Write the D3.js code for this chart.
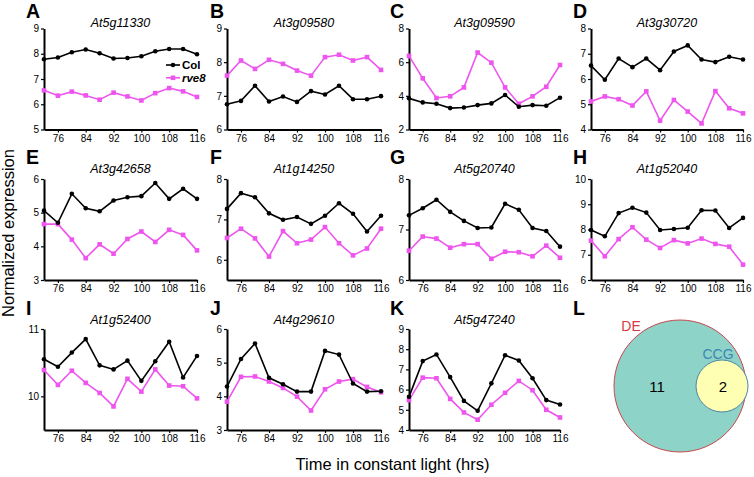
<!DOCTYPE html>
<html><head><meta charset="utf-8">
<script src="https://cdn.jsdelivr.net/npm/d3@7"></script>
<style>body{margin:0;background:#fff} svg{display:block;font-family:"Liberation Sans",Arial,Helvetica,sans-serif}</style>
</head><body><svg id="c" width="754" height="477"></svg>
<script>
// ---- data ----
const hours = [72,76,80,84,88,92,96,100,104,108,112,116];
const xTickHours = [76,84,92,100,108,116];
const panelLetters = ["A","B","C","D","E","F","G","H","I","J","K"];
const geneNames = ["At5g11330","At3g09580","At3g09590","At3g30720","At3g42658","At1g14250","At5g20740","At1g52040","At1g52400","At4g29610","At5g47240"];

const colA  = [7.78,7.85,8.06,8.17,8.02,7.81,7.83,7.90,8.10,8.19,8.19,7.98];
const rve8A = [6.55,6.34,6.50,6.35,6.18,6.46,6.31,6.15,6.44,6.64,6.51,6.29];
const colB  = [6.75,6.85,7.30,6.83,6.98,6.82,7.14,7.04,7.30,6.90,6.90,6.99];
const rve8B = [7.60,8.05,7.80,8.07,7.95,7.75,7.60,8.15,8.22,8.05,8.15,7.77];
const colC  = [3.85,3.61,3.53,3.27,3.31,3.45,3.55,4.05,3.35,3.45,3.41,3.89];
const rve8C = [6.37,5.04,3.87,3.97,4.50,6.57,5.97,4.50,3.53,3.97,4.54,5.83];
const colD  = [6.53,5.97,6.81,6.47,6.81,6.35,7.09,7.33,6.77,6.67,6.88,6.77];
const rve8D = [5.11,5.31,5.20,4.95,5.51,4.35,5.17,4.71,4.24,5.52,4.84,4.64];
const colE  = [5.06,4.70,5.56,5.13,5.04,5.36,5.46,5.49,5.88,5.41,5.71,5.41];
const rve8E = [4.66,4.66,4.20,3.65,4.06,3.78,4.22,4.44,4.13,4.49,4.34,3.88];
const colF  = [7.26,7.65,7.55,7.15,6.99,7.06,6.89,7.09,7.40,7.14,6.70,7.09];
const rve8F = [6.54,6.77,6.53,6.08,6.71,6.41,6.50,6.81,6.41,6.11,6.28,6.77];
const colG  = [7.28,7.42,7.59,7.35,7.17,7.03,7.04,7.51,7.39,7.03,6.97,6.66];
const rve8G = [6.58,6.86,6.82,6.64,6.71,6.71,6.42,6.56,6.55,6.47,6.68,6.44];
const colH  = [7.98,7.73,8.65,8.86,8.67,7.98,8.02,8.07,8.76,8.75,8.06,8.46];
const rve8H = [7.56,6.94,7.62,8.09,7.60,7.27,7.58,7.45,7.64,7.43,7.32,6.61];
const colI  = [10.55,10.44,10.65,10.85,10.46,10.40,10.53,10.23,10.52,10.81,10.28,10.60];
const rve8I = [10.39,10.17,10.38,10.20,10.05,9.85,10.26,10.07,10.40,10.16,10.15,9.97];
const colJ  = [4.29,5.11,5.57,4.55,4.36,4.14,4.14,5.35,5.24,4.38,4.14,4.15];
const rve8J = [3.84,4.58,4.59,4.44,4.25,3.99,3.58,4.21,4.44,4.51,4.28,4.12];
const colK  = [5.64,7.41,7.74,6.62,5.44,4.95,6.31,7.70,7.44,6.56,5.48,5.26];
const rve8K = [5.48,6.59,6.56,5.54,4.87,4.51,5.25,5.84,6.43,5.97,5.00,4.62];

const yDomains = [[5,9],[6,9],[2,8],[4,8],[3,6],[5.5,8],[6,8],[6,10],[9.5,11],[3,6],[4,9]];
const yTicks = [[5,6,7,8,9],[6,7,8,9],[2,4,6,8],[4,5,6,7,8],[3,4,5,6],[6,7,8],[6,7,8],[6,7,8,9,10],[10,11],[3,4,5,6],[4,5,6,7,8,9]];
const colSeries = [colA,colB,colC,colD,colE,colF,colG,colH,colI,colJ,colK];
const rve8Series = [rve8A,rve8B,rve8C,rve8D,rve8E,rve8F,rve8G,rve8H,rve8I,rve8J,rve8K];

const seriesNames = ["Col","rve8"];
const vennSets = ["DE","CCG"];
const vennCounts = [11,2];

// ---- layout ----
const colX = [44,227,409,591];
const colW = [153,154,151,152];
const rowY = [28.5,179,329];
const plotH = 101;
const titleY = [27,172.5,324];
const letterY = [18,164,315];
const letterX = [26,210,390,573];
const BLACK = "#000", MAG = "#ee55ee";

const svg = d3.select("#c");

panelLetters.forEach((L,i)=>{
  const c = i%4, r = Math.floor(i/4);
  const x0 = colX[c], w = colW[c], y0 = rowY[r];
  const x = d3.scaleLinear().domain([72,116]).range([x0, x0+w]);
  const y = d3.scaleLinear().domain(yDomains[i]).range([y0+plotH, y0]);

  svg.append("text").attr("x", letterX[c]).attr("y", letterY[r])
    .attr("font-size", 19.5).attr("font-weight","bold").text(L);
  svg.append("text").attr("x", x0 + w/2).attr("y", titleY[r])
    .attr("text-anchor","middle").attr("font-size",12.5).attr("font-style","italic").text(geneNames[i]);

  const ya = svg.append("g").attr("transform",`translate(${x0},0)`)
    .call(d3.axisLeft(y).tickValues(yTicks[i]).tickSize(3).tickPadding(2).tickSizeOuter(0).tickFormat(d3.format("d")));
  const xa = svg.append("g").attr("transform",`translate(0,${y0+plotH})`)
    .call(d3.axisBottom(x).tickValues(xTickHours).tickSize(3).tickPadding(2).tickSizeOuter(0));
  [ya,xa].forEach(a=>{
    a.select(".domain").attr("stroke","#000").attr("stroke-width",2);
    a.selectAll(".tick line").attr("stroke","#000").attr("stroke-width",1.2);
    a.selectAll("text").attr("font-size",10).attr("fill","#000").attr("font-family","'Liberation Sans',Arial,sans-serif");
  });

  const line = d3.line().x((d,k)=>x(hours[k])).y(d=>y(d));
  svg.append("path").datum(rve8Series[i]).attr("d",line).attr("fill","none").attr("stroke",MAG).attr("stroke-width",1.6);
  svg.append("g").selectAll("rect").data(rve8Series[i]).join("rect")
    .attr("x",(d,k)=>x(hours[k])-2.3).attr("y",d=>y(d)-2.3).attr("width",4.6).attr("height",4.6).attr("fill",MAG);
  svg.append("path").datum(colSeries[i]).attr("d",line).attr("fill","none").attr("stroke",BLACK).attr("stroke-width",1.6);
  svg.append("g").selectAll("circle").data(colSeries[i]).join("circle")
    .attr("cx",(d,k)=>x(hours[k])).attr("cy",d=>y(d)).attr("r",2.3).attr("fill",BLACK);
});

// legend in panel A
const lg = svg.append("g");
[[BLACK,65,"circle"],[MAG,77.8,"rect"]].forEach(([col,yy,shape],k)=>{
  lg.append("line").attr("x1",166).attr("x2",180).attr("y1",yy).attr("y2",yy).attr("stroke",col).attr("stroke-width",1.6);
  if(shape==="circle") lg.append("circle").attr("cx",173).attr("cy",yy).attr("r",2.3).attr("fill",col);
  else lg.append("rect").attr("x",170.7).attr("y",yy-2.3).attr("width",4.6).attr("height",4.6).attr("fill",col);
  lg.append("text").attr("x",182).attr("y",yy+4).attr("font-size",11.5).attr("font-weight","bold")
    .attr("font-style", k===1?"italic":"normal").text(seriesNames[k]);
});

// panel L letter
svg.append("text").attr("x",letterX[3]).attr("y",letterY[2]).attr("font-size",19.5).attr("font-weight","bold").text("L");

// Venn
svg.append("circle").attr("cx",680).attr("cy",386).attr("r",66).attr("fill","#8dd3c7").attr("stroke","#c9474f").attr("stroke-width",1);
svg.append("circle").attr("cx",722).attr("cy",386).attr("r",26).attr("fill","#ffffb3").attr("stroke","#4e86a6").attr("stroke-width",1);
svg.append("text").attr("x",631).attr("y",331).attr("text-anchor","middle").attr("font-size",14).attr("fill","#d9393f").text(vennSets[0]);
svg.append("text").attr("x",718).attr("y",358.5).attr("text-anchor","middle").attr("font-size",14).attr("fill","#3f86b5").text(vennSets[1]);
svg.append("text").attr("x",657).attr("y",391.5).attr("text-anchor","middle").attr("font-size",15).text(vennCounts[0]);
svg.append("text").attr("x",723).attr("y",391.5).attr("text-anchor","middle").attr("font-size",15).text(vennCounts[1]);

// axis titles
svg.append("text").attr("transform","translate(14,233) rotate(-90)").attr("text-anchor","middle")
  .attr("font-size",16.5).text("Normalized expression");
svg.append("text").attr("x",392.5).attr("y",470).attr("text-anchor","middle").attr("font-size",16.5)
  .text("Time in constant light (hrs)");
</script></body></html>
